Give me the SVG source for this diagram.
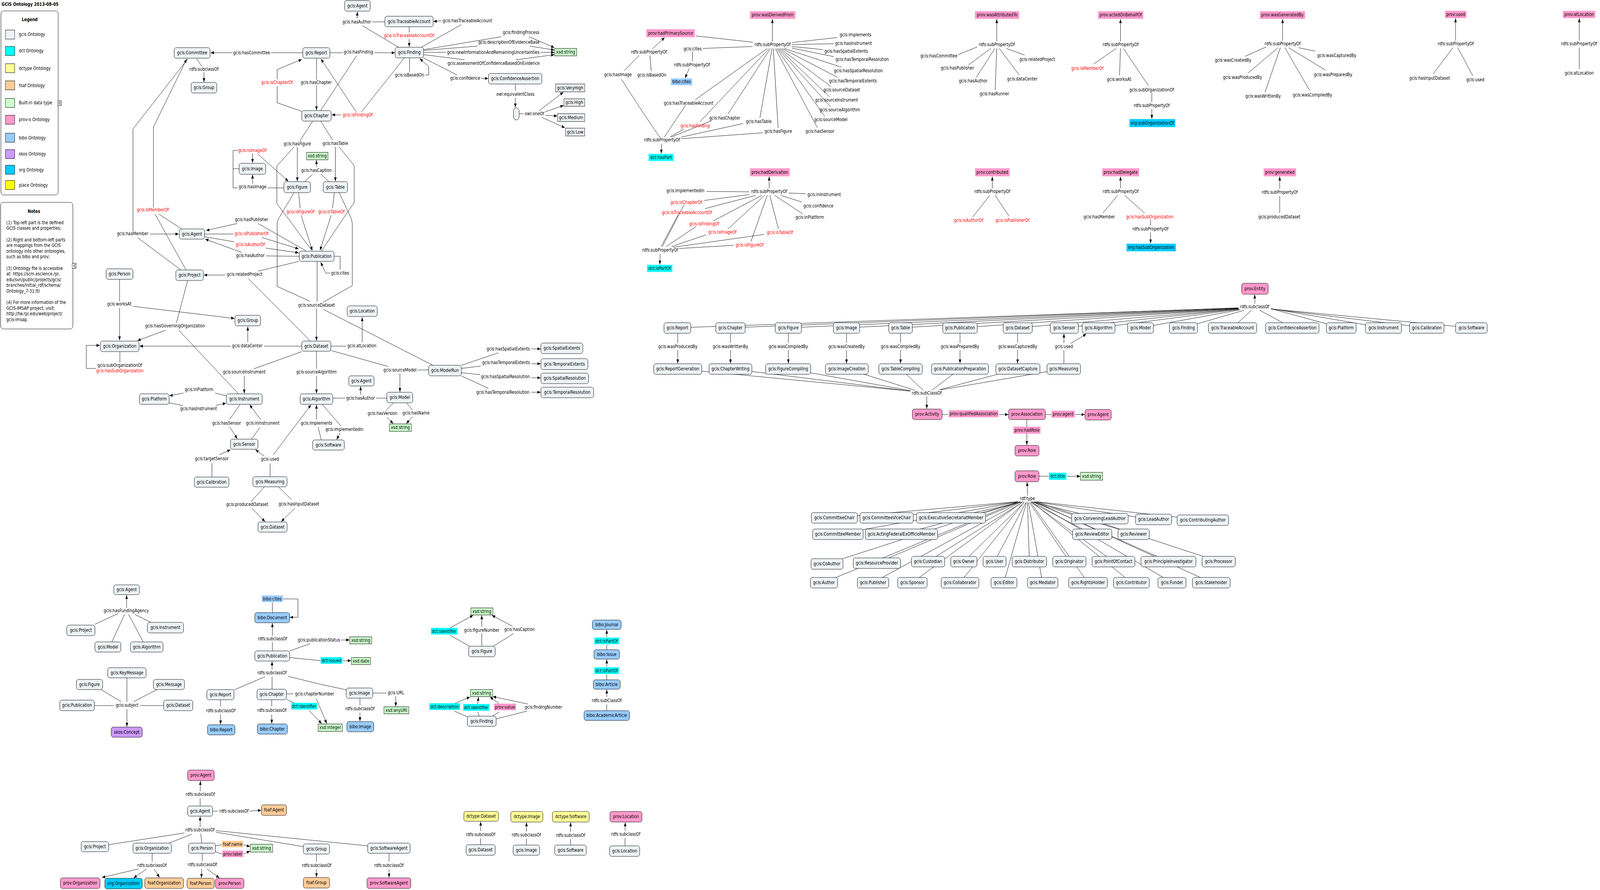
<svg xmlns="http://www.w3.org/2000/svg" width="5005" height="2278" viewBox="0 0 5005 2278">
<defs>
<marker id="ah" markerWidth="10" markerHeight="8" refX="10" refY="4" orient="auto" markerUnits="userSpaceOnUse"><path d="M0,0 L10,4 L0,8 z" fill="#000"/></marker>
<style>
text{font-family:"DejaVu Sans","Liberation Sans",sans-serif;font-size:12px;fill:#000;text-anchor:middle}
.s{text-anchor:start}
.rd{fill:#ff0000}
.bd{font-weight:bold}
.g{fill:#eef3f5;stroke:#000}
.x{fill:#ccffcc;stroke:#000}
.pk{fill:#ff99cc;stroke:#ffb0d6}
.pr{fill:#ff99cc;stroke:#000}
.cy{fill:#00ffff;stroke:#70ffff}
.bl{fill:#99ccff;stroke:#b0d8ff}
.br{fill:#99ccff;stroke:#000}
.og{fill:#00ccff;stroke:#40d8ff}
.or{fill:#00ccff;stroke:#000}
.fo{fill:#ffcc99;stroke:#000}
.dy{fill:#ffff99;stroke:#000}
.sk{fill:#cc99ff;stroke:#000}
.pl{fill:#ffff00;stroke:#000}
.hp{fill:#ff99cc}
.hc{fill:#00ffff}
.hb{fill:#99ccff}
.hf{fill:#ffcc99}
#connectors path{fill:none;stroke:#000;stroke-width:1}
#connectors .a{marker-end:url(#ah)}
.box{fill:#fff;stroke:#000}
</style>
</defs>
<rect width="5005" height="2278" fill="#fff"/>
<g id="diagram" transform="scale(0.8184 1)">
<g id="title"><text class="s bd" x="5" y="15">GCIS Ontology 2013-08-05</text></g>

<g id="legend">
<rect class="box" x="3" y="28" width="179" height="471" rx="8"/>
<text class="bd" x="93" y="54">Legend</text>
<rect class="g" x="17" y="77" width="29" height="23"/><text class="s" x="59" y="92">gcis Ontology</text>
<rect fill="#00ffff" stroke="#000" x="17" y="119" width="29" height="23"/><text class="s" x="59" y="134">dct Ontology</text>
<rect class="dy" x="17" y="163" width="29" height="23"/><text class="s" x="59" y="179">dctype Ontology</text>
<rect class="fo" x="17" y="207" width="29" height="23"/><text class="s" x="59" y="223">foaf Ontology</text>
<rect class="x" x="17" y="252" width="29" height="23"/><text class="s" x="59" y="267">Built-in data type</text>
<rect class="pr" x="17" y="295" width="29" height="23"/><text class="s" x="59" y="310">prov-o Ontology</text>
<rect class="br" x="17" y="341" width="29" height="23"/><text class="s" x="59" y="357">bibo Ontology</text>
<rect class="sk" x="17" y="383" width="29" height="23"/><text class="s" x="59" y="398">skos Ontology</text>
<rect class="or" x="17" y="423" width="29" height="23"/><text class="s" x="59" y="439">org Ontology</text>
<rect class="pl" x="17" y="462" width="29" height="23"/><text class="s" x="59" y="478">place Ontology</text>
<rect class="box" x="181" y="258" width="11" height="12"/>
<path d="M187,260 l-3,4 l3,4 M190,260 l-3,4 l3,4" fill="none" stroke="#000"/>
</g>

<g id="notes">
<rect class="box" x="2" y="518" width="226" height="324" rx="8"/>
<text class="bd" x="106" y="545">Notes</text>
<text class="s" x="20" y="574">(1) Top-left part is the defined</text>
<text class="s" x="20" y="588">GCIS classes and properties;</text>
<text class="s" x="20" y="618">(2) Right and bottom-left parts</text>
<text class="s" x="20" y="632">are mappings from the GCIS</text>
<text class="s" x="20" y="647">ontology into other ontologies,</text>
<text class="s" x="20" y="661">such as bibo and prov;</text>
<text class="s" x="20" y="691">(3) Ontology file is accessible</text>
<text class="s" x="20" y="705">at: https://scm.escience.rpi.</text>
<text class="s" x="20" y="720">edu/svn/public/projects/gcis/</text>
<text class="s" x="20" y="734">branches/initial_rdf/schema/</text>
<text class="s" x="20" y="749">Ontology_7-31.ttl</text>
<text class="s" x="20" y="778">(4) For more information of the</text>
<text class="s" x="20" y="793">GCIS-IMSAP project, visit:</text>
<text class="s" x="20" y="807">http://tw.rpi.edu/web/project/</text>
<text class="s" x="20" y="822">gcis-imsap.</text>
<rect class="box" x="226" y="674" width="12" height="13"/>
<path d="M233,676 l-3,4.5 l3,4.5 M236,676 l-3,4.5 l3,4.5" fill="none" stroke="#000"/>
</g>

<g id="connectors">
<path d="M947,135 L848,135"/><path class="a" d="M727,135 L659,135"/>
<path d="M615,150 L631,170"/><path class="a" d="M638,185 L638,210"/>
<path d="M944,285 L867,263 L867,221"/><path class="a" d="M867,203 L867,178 L944,152"/>
<path d="M990,149 L990,204"/><path class="a" d="M990,219 L990,282"/>
<path d="M1032,135 L1072,135"/><path class="a" d="M1171,135 L1235,135"/><path d="M1115,143 L1003,283"/>
<path d="M1265,148 L1131,286"/><path class="a" d="M1067,294 L1038,294"/><path class="a" d="M1114,286 L1004,151"/>
<path d="M1247,121 L1134,66"/><path d="M1204,56 L1165,56"/><path class="a" d="M1117,47 L1118,30"/>
<path d="M1318,121 L1443,63"/><path class="a" d="M1381,53 L1356,55"/>
<path d="M1280,69 L1280,83"/><path class="a" d="M1280,100 L1280,120"/>
<path d="M1326,127 L1568,94"/><path class="a" d="M1655,94 L1734,122"/>
<path d="M1326,129 L1494,118"/><path class="a" d="M1657,118 L1734,128"/>
<path d="M1326,134 L1394,134"/><path class="a" d="M1691,134 L1734,134"/>
<path d="M1326,140 L1453,153"/><path class="a" d="M1614,153 L1734,140"/>
<path d="M1324,148 L1430,192"/><path class="a" d="M1504,200 L1527,201"/>
<path d="M1281,148 L1281,183"/><path class="a" d="M1330,192 L1341,192 L1341,170 L1313,150"/>
<path d="M1612,215 L1612,233"/><path class="a" d="M1612,250 L1612,275"/>
<path d="M1624,291 L1638,291"/><path class="a" d="M1687,283 L1762,236"/><path class="a" d="M1706,286 L1763,270"/><path class="a" d="M1706,295 L1743,297"/><path class="a" d="M1694,300 L1767,327"/>
<path d="M978,310 L938,361"/><path class="a" d="M930,376 L930,464"/><path d="M920,376 L866,425 L866,521 L902,560 L975,641"/>
<path d="M934,493 L939,533"/><path class="a" d="M942,551 L977,641"/>
<path d="M1003,310 L1041,359"/><path class="a" d="M1049,376 L1049,464"/><path d="M1061,376 L1108,424 L1108,518 L1073,560 L1006,642"/>
<path d="M1046,493 L1040,533"/><path class="a" d="M1036,551 L1001,641"/>
<path d="M953,465 L978,446"/><path d="M1003,445 L1029,465"/><path class="a" d="M990,428 L990,410"/>
<path class="a" d="M790,393 L790,417"/><path class="a" d="M806,394 L902,464"/><path d="M745,385 L729,385 L729,481 L743,481"/><path d="M729,432 L748,432"/>
<path d="M837,481 L888,481"/><path class="a" d="M790,470 L790,447"/>
<path d="M920,493 L871,560 L867,571 L867,733 L969,771"/><path d="M1061,493 L1099,560 L1102,571 L1102,731 L1010,774"/><path d="M992,669 L992,772"/><path class="a" d="M990,790 L990,872"/><path d="M1012,792 L1354,935"/>
<path d="M807,572 L957,642"/><path class="a" d="M742,572 L645,590"/>
<path d="M641,599 L730,599"/><path class="a" d="M820,608 L934,637"/>
<path d="M641,606 L733,619"/><path class="a" d="M832,635 L934,647"/>
<path d="M936,656 L832,655"/><path class="a" d="M756,646 L642,612"/>
<path d="M1045,656 L1064,656 L1064,690"/><path class="a" d="M1033,699 L1019,699 L1003,671"/>
<path d="M935,669 L807,694"/><path class="a" d="M705,704 L638,704"/><path d="M777,713 L971,873"/>
<path d="M588,150 L416,330 L416,592"/><path class="a" d="M469,599 L559,599"/><path d="M430,608 L566,691"/>
<path class="a" d="M480,531 L480,325 L584,151"/><path d="M485,548 L582,691"/><path d="M497,548 L568,586"/>
<path d="M374,715 L374,771"/><path class="a" d="M374,788 L374,871"/><path class="a" d="M416,784 L733,815"/>
<path d="M587,718 L552,826"/><path class="a" d="M518,845 L430,872"/><path d="M559,845 L746,1008"/>
<path d="M944,886 L826,886"/><path class="a" d="M722,886 L437,886"/><path class="a" d="M775,876 L775,836"/>
<path d="M375,900 L375,928"/><path class="a" d="M300,943 L270,943 L270,884 L312,884"/>
<path d="M1035,886 L1083,886"/><path class="a" d="M1133,876 L1133,812"/>
<path d="M1035,897 L1214,938"/><path d="M1306,947 L1341,947"/><path class="a" d="M1251,956 L1251,1003"/>
<path d="M1443,935 L1559,903"/><path class="a" d="M1662,893 L1691,893"/>
<path d="M1443,943 L1504,937"/><path class="a" d="M1662,931 L1691,931"/>
<path d="M1443,954 L1502,959"/><path class="a" d="M1662,967 L1691,967"/>
<path d="M1443,962 L1528,994"/><path class="a" d="M1662,1004 L1691,1004"/>
<path d="M944,900 L794,944"/><path class="a" d="M764,962 L764,1007"/>
<path d="M990,899 L990,944"/><path class="a" d="M990,962 L990,1007"/>
<path d="M708,1013 L673,1006"/><path class="a" d="M574,1006 L530,1013"/>
<path d="M529,1031 L572,1038"/><path class="a" d="M674,1038 L707,1032"/>
<path d="M751,1035 L718,1074"/><path class="a" d="M718,1092 L742,1123"/>
<path class="a" d="M815,1074 L781,1036"/><path d="M813,1094 L787,1124"/>
<path class="a" d="M990,1074 L990,1036"/><path d="M995,1093 L1005,1126"/>
<path d="M1008,1035 L1067,1091"/><path class="a" d="M1064,1108 L1053,1125"/>
<path class="a" d="M827,1168 L799,1151"/><path class="a" d="M855,1164 L973,1036"/><path d="M845,1220 L845,1186"/>
<path d="M663,1221 L663,1186"/><path class="a" d="M686,1164 L721,1151"/>
<path d="M827,1246 L785,1284"/><path class="a" d="M788,1301 L829,1335"/>
<path d="M871,1246 L912,1279"/><path class="a" d="M922,1301 L880,1335"/>
<path d="M1231,1031 L1207,1051"/><path class="a" d="M1210,1068 L1230,1084"/>
<path d="M1271,1031 L1290,1049"/><path class="a" d="M1290,1067 L1271,1084"/>
<path d="M1041,1019 L1080,1019"/><path d="M1177,1019 L1210,1019"/><path class="a" d="M1128,1011 L1128,989"/>
<path class="a" d="M396,1556 L396,1523"/><path d="M370,1570 L297,1598"/><path d="M390,1572 L350,1643"/><path d="M402,1572 L448,1643"/><path d="M421,1572 L472,1593"/>
<path d="M397,1735 L397,1796"/><path d="M316,1765 L379,1796"/><path d="M491,1765 L418,1796"/><path d="M295,1806 L357,1806"/><path d="M438,1806 L512,1806"/><path class="a" d="M397,1815 L397,1860"/>
<path d="M885,1533 L932,1533 L932,1580"/><path class="a" d="M932,1580 L907,1580"/><path d="M852,1568 L852,1542"/>
<path d="M852,1666 L852,1644"/><path class="a" d="M852,1627 L852,1595"/>
<path d="M906,1666 L969,1648"/><path class="a" d="M1067,1638 L1093,1638"/>
<path d="M906,1683 L1003,1691"/><path class="a" d="M1072,1691 L1098,1691"/>
<path class="a" d="M851,1714 L851,1693"/><path d="M829,1732 L732,1766"/><path d="M851,1732 L851,1764"/><path d="M901,1731 L1000,1751 L1085,1766"/>
<path d="M690,1791 L690,1808"/><path class="a" d="M690,1829 L690,1854"/>
<path d="M850,1791 L850,1808"/><path class="a" d="M850,1829 L850,1852"/>
<path d="M896,1776 L918,1776"/><path class="a" d="M989,1788 L1022,1852"/>
<path d="M896,1790 L925,1801"/><path class="a" d="M966,1818 L1006,1852"/>
<path d="M1166,1774 L1209,1774"/><path class="a" d="M1238,1782 L1238,1808"/>
<path d="M1126,1787 L1126,1805"/><path class="a" d="M1126,1824 L1126,1846"/>
<path d="M1471,1655 L1408,1626"/><path class="a" d="M1408,1607 L1480,1575"/>
<path d="M1507,1654 L1507,1621"/><path class="a" d="M1507,1604 L1507,1575"/>
<path d="M1541,1655 L1606,1622"/><path class="a" d="M1603,1603 L1539,1575"/>
<path d="M1463,1835 L1421,1820"/><path class="a" d="M1421,1801 L1470,1784"/>
<path d="M1499,1833 L1494,1822"/><path class="a" d="M1494,1802 L1497,1784"/>
<path d="M1541,1833 L1561,1822"/><path class="a" d="M1561,1801 L1533,1784"/>
<path d="M1552,1840 L1649,1820"/><path class="a" d="M1651,1802 L1542,1783"/>
<path d="M1898,1663 L1898,1650"/><path class="a" d="M1898,1631 L1898,1612"/>
<path d="M1898,1740 L1898,1726"/><path class="a" d="M1898,1707 L1898,1688"/>
<path d="M1898,1819 L1898,1803"/><path class="a" d="M1898,1784 L1898,1765"/>
<path d="M626,2063 L626,2043"/><path class="a" d="M626,2025 L627,1999"/>
<path d="M665,2076 L681,2076"/><path class="a" d="M781,2076 L817,2074"/>
<path class="a" d="M626,2117 L626,2090"/>
<path d="M577,2132 L340,2162"/><path d="M600,2135 L529,2158"/><path d="M628,2134 L631,2158"/><path d="M675,2130 L949,2167"/><path d="M675,2126 L1150,2165"/>
<path d="M674,2165 L694,2162"/><path class="a" d="M762,2162 L782,2167"/>
<path d="M674,2180 L694,2186"/><path class="a" d="M762,2186 L782,2178"/>
<path d="M476,2184 L476,2206"/><path class="a" d="M434,2224 L319,2246"/><path class="a" d="M459,2224 L418,2247"/><path class="a" d="M482,2224 L499,2246"/>
<path d="M632,2184 L633,2204"/><path class="a" d="M631,2224 L630,2247"/><path class="a" d="M647,2224 L686,2247"/>
<path d="M990,2186 L990,2206"/><path class="a" d="M990,2225 L990,2245"/>
<path d="M1217,2184 L1217,2206"/><path class="a" d="M1217,2225 L1217,2246"/>
<path d="M1503.5,2162 L1503.5,2146"/><path class="a" d="M1503.5,2127 L1503.5,2103"/>
<path d="M1646.5,2163 L1646.5,2147"/><path class="a" d="M1646.5,2128 L1647,2105"/>
<path d="M1784.5,2163 L1784.5,2148"/><path class="a" d="M1784.5,2129 L1785,2105"/>
<path d="M1955,2165 L1955,2145"/><path class="a" d="M1955,2126 L1956,2105"/>
<path class="a" d="M2041,125 L2079,96"/><path d="M1999,142 L1953,181"/><path d="M2033,142 L2037,182"/><path d="M1944,203 L2000,274 L2064,352"/>
<path class="a" d="M2070,368 L2068,393"/><path d="M2144,270 L2078,351"/><path d="M2140,330 L2096,350"/><path d="M2226,309 L2099,351"/><path d="M2325,316 L2131,351"/><path d="M2386,340 L2131,355"/>
<path d="M2166,132 L2166,157"/><path class="a" d="M2156,175 L2143,200"/>
<path class="a" d="M2416,106 L2416,49"/>
<path d="M2177,92 L2355,108"/><path d="M2354,119 L2198,124"/>
<path d="M2477,109 L2619,96"/><path d="M2477,114 L2608,112"/><path d="M2477,119 L2575,127"/><path d="M2477,123 L2608,145"/>
<path d="M2453,124 L2632,172"/><path d="M2446,124 L2620,198"/><path d="M2440,124 L2600,222"/><path d="M2436,124 L2595,248"/>
<path d="M2432,124 L2598,273"/><path d="M2429,124 L2580,298"/><path d="M2425,124 L2557,327"/><path d="M2419,124 L2434,327"/>
<path d="M2415,124 L2377,302"/><path d="M2410,124 L2277,292"/><path d="M2406,124 L2189,312"/><path d="M2400,124 L2175,255"/>
<path class="a" d="M3118,106 L3118,49"/>
<path d="M3057,120 L2997,140"/><path d="M3099,124 L3030,166"/><path d="M3112,124 L3054,198"/><path d="M3118,124 L3113,230"/><path d="M3126,124 L3188,192"/><path d="M3148,124 L3205,141"/>
<path class="a" d="M3505,106 L3505,49"/>
<path d="M3491,124 L3421,164"/><path d="M3505,124 L3502,193"/><path d="M3514,124 L3593,220"/>
<path d="M3603,238 L3603,262"/><path class="a" d="M3603,279 L3603,304"/>
<path class="a" d="M4012,104 L4012,49"/>
<path d="M3961,120 L3895,144"/><path d="M3998,122 L3904,187"/><path d="M4005,122 L3957,236"/><path d="M4019,122 L4097,232"/><path d="M4031,122 L4147,180"/><path d="M4062,122 L4114,131"/>
<path class="a" d="M4553,104 L4553,47"/><path d="M4545,122 L4483,189"/><path d="M4560,122 L4607,194"/>
<path class="a" d="M4940,104 L4940,47"/><path d="M4940,122 L4940,177"/>
<path class="a" d="M2406,482 L2406,452"/>
<path d="M2210,490 L2344,491"/><path d="M2203,513 L2344,498"/><path d="M2205,534 L2364,500"/>
<path d="M2467,494 L2520,496"/><path d="M2442,500 L2508,517"/><path d="M2423,500 L2512,548"/>
<path d="M2383,500 L2232,565"/><path d="M2392,500 L2277,586"/><path d="M2400,500 L2349,618"/><path d="M2408,500 L2435,586"/>
<path class="a" d="M2065,650 L2064,677"/>
<path d="M2140,524 L2072,631"/><path d="M2121,550 L2068,631"/><path d="M2177,580 L2084,631"/><path d="M2209,601 L2101,631"/><path d="M2390,600 L2105,633"/><path d="M2294,628 L2124,636"/>
<path class="a" d="M3104,482 L3104,452"/><path d="M3096,500 L3043,555"/><path d="M3113,500 L3156,553"/>
<path class="a" d="M3505,482 L3505,452"/><path d="M3496,500 L3450,545"/><path d="M3518,500 L3580,545"/>
<path d="M3599,562 L3599,577"/><path class="a" d="M3599,595 L3599,623"/>
<path class="a" d="M4003,484 L4003,452"/><path d="M4003,502 L4003,545"/>
<path class="a" d="M3925,777 L3925,754"/>
<path d="M2119,839 L3874,788"/><path d="M2285,839 L3874,788"/><path d="M2466,839 L3874,789"/><path d="M2648,839 L3874,789"/><path d="M2817,839 L3874,790"/><path d="M3003,839 L3874,790"/><path d="M3183,839 L3874,791"/><path d="M3329,839 L3874,791"/><path d="M3436,839 L3876,792"/><path d="M3567,839 L3880,793"/><path d="M3702,839 L3892,794"/><path d="M3855,839 L3915,794"/><path d="M4042,839 L3940,794"/><path d="M4195,839 L3975,790"/><path d="M4327,839 L3975,790"/><path d="M4463,839 L3977,791"/><path d="M4602,839 L3977,791"/>
<path d="M2120,853 L2120,878"/><path class="a" d="M2120,896 L2120,930"/>
<path d="M2285,853 L2285,878"/><path class="a" d="M2285,896 L2285,930"/>
<path d="M2466,853 L2466,878"/><path class="a" d="M2466,896 L2466,930"/>
<path d="M2648,853 L2648,878"/><path class="a" d="M2648,896 L2648,930"/>
<path d="M2817,853 L2817,878"/><path class="a" d="M2817,896 L2817,930"/>
<path d="M3003,853 L3003,878"/><path class="a" d="M3003,896 L3003,930"/>
<path d="M3183,853 L3183,878"/><path class="a" d="M3183,896 L3183,930"/>
<path class="a" d="M3328,878 L3328,854"/><path class="a" d="M3349,879 L3398,855"/><path d="M3328,931 L3328,897"/>
<path d="M2120,944 L2847,1001"/><path d="M2285,944 L2847,1001"/><path d="M2465,944 L2849,1000"/><path d="M2649,944 L2862,999"/><path d="M2817,944 L2888,999"/><path d="M3003,944 L2915,999"/><path d="M3184,944 L2937,998"/><path d="M3327,944 L2942,998"/>
<path class="a" d="M2899,1015 L2899,1046"/>
<path d="M2947,1061 L2966,1061"/><path class="a" d="M3125,1061 L3154,1061"/>
<path d="M3270,1061 L3288,1061"/><path class="a" d="M3363,1061 L3393,1061"/>
<path d="M3212,1074 L3212,1092"/><path class="a" d="M3212,1110 L3212,1139"/>
<path d="M3250,1219 L3280,1219"/><path class="a" d="M3337,1219 L3379,1219"/>
<path class="a" d="M3214,1268 L3213,1234"/>
<path d="M2610,1325 L3184,1284"/><path d="M2773,1325 L3192,1284"/><path d="M2975,1325 L3202,1284"/><path d="M3440,1327 L3226,1284"/><path d="M3608,1330 L3234,1284"/><path d="M3762,1331 L3241,1284"/>
<path d="M2621,1367 L3184,1285"/><path d="M2820,1367 L3194,1285"/><path d="M3416,1367 L3224,1285"/><path d="M3546,1367 L3230,1285"/>
<path d="M2587,1443 L3184,1285"/><path d="M2743,1441 L3190,1285"/><path d="M2903,1437 L3198,1286"/><path d="M3015,1437 L3204,1286"/><path d="M3111,1437 L3209,1286"/><path d="M3220,1437 L3214,1286"/><path d="M3345,1437 L3220,1286"/><path d="M3483,1437 L3227,1286"/><path d="M3655,1437 L3236,1285"/><path d="M3812,1437 L3244,1285"/>
<path d="M2577,1491 L3183,1285"/><path d="M2731,1491 L3190,1286"/><path d="M2854,1491 L3196,1286"/><path d="M3003,1491 L3203,1286"/><path d="M3140,1491 L3211,1286"/><path d="M3261,1491 L3217,1286"/><path d="M3403,1491 L3224,1286"/><path d="M3539,1491 L3230,1286"/><path d="M3666,1491 L3236,1286"/><path d="M3789,1491 L3242,1286"/>
</g>

<g id="nodes">
<g id="n-committee"><rect class="g" x="545" y="122" width="112" height="27" rx="6"/><text x="601" y="139.5">gcis:Committee</text></g>
<g id="n-group1"><rect class="g" x="598" y="211" width="80" height="27" rx="6"/><text x="638" y="228.5">gcis:Group</text></g>
<g id="n-report1"><rect class="g" x="947" y="122" width="85" height="27" rx="6"/><text x="989.5" y="139.5">gcis:Report</text></g>
<g id="n-chapter1"><rect class="g" x="944" y="283" width="92" height="27" rx="6"/><text x="990" y="300.5">gcis:Chapter</text></g>
<g id="n-agent1"><rect class="g" x="1078" y="1.5" width="80" height="27" rx="6"/><text x="1118" y="19">gcis:Agent</text></g>
<g id="n-traceable1"><rect class="g" x="1204" y="41.5" width="151" height="27" rx="6"/><text x="1279.5" y="59">gcis:TraceableAccount</text></g>
<g id="n-finding1"><rect class="g" x="1236" y="121" width="89" height="27" rx="6"/><text x="1280.5" y="138.5">gcis:Finding</text></g>
<g id="n-confidence1"><rect class="g" x="1528" y="188" width="167" height="27" rx="6"/><text x="1611.5" y="205.5">gcis:ConfidenceAssertion</text></g>
<g id="n-xstr1"><rect class="x" x="1735" y="124" width="69" height="19"/><text x="1769.5" y="137.5">xsd:string</text></g>
<g id="n-veryhigh"><rect class="g" x="1738" y="215" width="91" height="20"/><text x="1783.5" y="229">gcis:VeryHigh</text></g>
<g id="n-high"><rect class="g" x="1764" y="253" width="65" height="19"/><text x="1796.5" y="266.5">gcis:High</text></g>
<g id="n-medium"><rect class="g" x="1744" y="291" width="85" height="20"/><text x="1786.5" y="305">gcis:Medium</text></g>
<g id="n-low"><rect class="g" x="1769" y="328" width="60" height="20"/><text x="1799" y="342">gcis:Low</text></g>
<g id="n-oneof"><rect class="g" x="1606" y="276" width="18" height="31" rx="9"/></g>
<g id="n-image1"><rect class="g" x="748" y="418" width="83" height="28" rx="6"/><text x="789.5" y="436">gcis:Image</text></g>
<g id="n-figure1"><rect class="g" x="888" y="465" width="83" height="28" rx="6"/><text x="929.5" y="483">gcis:Figure</text></g>
<g id="n-xstr2"><rect class="x" x="959" y="390" width="67" height="19"/><text x="992.5" y="403.5">xsd:string</text></g>
<g id="n-table1"><rect class="g" x="1011" y="465" width="76" height="28" rx="6"/><text x="1049" y="483">gcis:Table</text></g>
<g id="n-agent2"><rect class="g" x="561" y="586" width="79" height="26" rx="6"/><text x="600.5" y="603">gcis:Agent</text></g>
<g id="n-publication1"><rect class="g" x="936" y="643" width="109" height="26" rx="6"/><text x="990.5" y="660">gcis:Publication</text></g>
<g id="n-person1"><rect class="g" x="332" y="688" width="84" height="27" rx="6"/><text x="374" y="705.5">gcis:Person</text></g>
<g id="n-project1"><rect class="g" x="550" y="691" width="86" height="27" rx="6"/><text x="593" y="708.5">gcis:Project</text></g>
<g id="n-group2"><rect class="g" x="735" y="807" width="80" height="27" rx="6"/><text x="775" y="824.5">gcis:Group</text></g>
<g id="n-organization1"><rect class="g" x="314" y="873" width="121" height="27" rx="6"/><text x="374.5" y="890.5">gcis:Organization</text></g>
<g id="n-dataset1"><rect class="g" x="944" y="873" width="91" height="26" rx="6"/><text x="989.5" y="890">gcis:Dataset</text></g>
<g id="n-location1"><rect class="g" x="1086" y="783" width="94" height="27" rx="6"/><text x="1133" y="800.5">gcis:Location</text></g>
<g id="n-modelrun"><rect class="g" x="1341" y="935" width="102" height="27" rx="6"/><text x="1392" y="952.5">gcis:ModelRun</text></g>
<g id="n-spatialext"><rect class="g" x="1692" y="878" width="131" height="27" rx="6"/><text x="1757.5" y="895.5">gcis:SpatialExtents</text></g>
<g id="n-temporalext"><rect class="g" x="1692" y="918" width="147" height="28" rx="6"/><text x="1765.5" y="936">gcis:TemporalExtents</text></g>
<g id="n-spatialres"><rect class="g" x="1692" y="955" width="149" height="27" rx="6"/><text x="1766.5" y="972.5">gcis:SpatialResolution</text></g>
<g id="n-temporalres"><rect class="g" x="1692" y="991" width="165" height="27" rx="6"/><text x="1774.5" y="1008.5">gcis:TemporalResolution</text></g>
<g id="n-agent3"><rect class="g" x="1091" y="962" width="79" height="26" rx="6"/><text x="1130.5" y="979">gcis:Agent</text></g>
<g id="n-model1"><rect class="g" x="1210" y="1004" width="81" height="27" rx="6"/><text x="1250.5" y="1021.5">gcis:Model</text></g>
<g id="n-xstr3"><rect class="x" x="1218" y="1085" width="69" height="19"/><text x="1252.5" y="1098.5">xsd:string</text></g>
<g id="n-instrument1"><rect class="g" x="708" y="1008" width="112" height="27" rx="6"/><text x="764" y="1025.5">gcis:Instrument</text></g>
<g id="n-platform1"><rect class="g" x="436" y="1008" width="93" height="27" rx="6"/><text x="482.5" y="1025.5">gcis:Platform</text></g>
<g id="n-algorithm1"><rect class="g" x="939" y="1008" width="102" height="27" rx="6"/><text x="990" y="1025.5">gcis:Algorithm</text></g>
<g id="n-sensor1"><rect class="g" x="721" y="1124" width="86" height="26" rx="6"/><text x="764" y="1141">gcis:Sensor</text></g>
<g id="n-calibration1"><rect class="g" x="608" y="1221" width="108" height="26" rx="6"/><text x="662" y="1238">gcis:Calibration</text></g>
<g id="n-measuring1"><rect class="g" x="791" y="1220" width="107" height="26" rx="6"/><text x="844.5" y="1237">gcis:Measuring</text></g>
<g id="n-dataset2"><rect class="g" x="807" y="1336" width="91" height="26" rx="6"/><text x="852.5" y="1353">gcis:Dataset</text></g>
<g id="n-software1"><rect class="g" x="978" y="1126" width="99" height="26" rx="6"/><text x="1027.5" y="1143">gcis:Software</text></g>

<g id="n-agent4"><rect class="g" x="356" y="1497" width="80" height="25" rx="6"/><text x="396" y="1513.5">gcis:Agent</text></g>
<g id="n-project2"><rect class="g" x="209" y="1600" width="88" height="27" rx="6"/><text x="253" y="1617.5">gcis:Project</text></g>
<g id="n-instrument2"><rect class="g" x="461" y="1593" width="113" height="27" rx="6"/><text x="517.5" y="1610.5">gcis:Instrument</text></g>
<g id="n-model2"><rect class="g" x="297" y="1643" width="81" height="26" rx="6"/><text x="337.5" y="1660">gcis:Model</text></g>
<g id="n-algorithm2"><rect class="g" x="408" y="1643" width="102" height="26" rx="6"/><text x="459" y="1660">gcis:Algorithm</text></g>
<g id="n-keymessage"><rect class="g" x="337" y="1709" width="120" height="26" rx="6"/><text x="397" y="1726">gcis:KeyMessage</text></g>
<g id="n-figure2"><rect class="g" x="239" y="1739" width="82" height="26" rx="6"/><text x="280" y="1756">gcis:Figure</text></g>
<g id="n-message"><rect class="g" x="480" y="1739" width="97" height="26" rx="6"/><text x="528.5" y="1756">gcis:Message</text></g>
<g id="n-publication2"><rect class="g" x="187" y="1792" width="108" height="27" rx="6"/><text x="241" y="1809.5">gcis:Publication</text></g>
<g id="n-dataset3"><rect class="g" x="512" y="1792" width="91" height="27" rx="6"/><text x="557.5" y="1809.5">gcis:Dataset</text></g>
<g id="n-concept"><rect class="sk" x="348" y="1861" width="97" height="26" rx="6"/><text x="396.5" y="1878">skos:Concept</text></g>

<g id="n-document"><rect class="br" x="797" y="1568" width="109" height="26" rx="6"/><text x="851.5" y="1585">bibo:Document</text></g>
<g id="n-publication3"><rect class="g" x="797" y="1666" width="109" height="26" rx="6"/><text x="851.5" y="1683">gcis:Publication</text></g>
<g id="n-xstr4"><rect class="x" x="1094" y="1630" width="69" height="18"/><text x="1128.5" y="1643">xsd:string</text></g>
<g id="n-xdate"><rect class="x" x="1099" y="1683" width="60" height="18"/><text x="1129" y="1696">xsd:date</text></g>
<g id="n-report2"><rect class="g" x="647" y="1765" width="85" height="26" rx="6"/><text x="689.5" y="1782">gcis:Report</text></g>
<g id="n-biboreport"><rect class="br" x="649" y="1855" width="86" height="26" rx="6"/><text x="692" y="1872">bibo:Report</text></g>
<g id="n-chapter2"><rect class="g" x="804" y="1764" width="92" height="27" rx="6"/><text x="850" y="1781.5">gcis:Chapter</text></g>
<g id="n-bibochapter"><rect class="br" x="805" y="1853" width="94" height="26" rx="6"/><text x="852" y="1870">bibo:Chapter</text></g>
<g id="n-xint"><rect class="x" x="995" y="1853" width="76" height="19"/><text x="1033" y="1866.5">xsd:integer</text></g>
<g id="n-image2"><rect class="g" x="1083" y="1761" width="83" height="26" rx="6"/><text x="1124.5" y="1778">gcis:Image</text></g>
<g id="n-xuri"><rect class="x" x="1201" y="1809" width="78" height="18"/><text x="1240" y="1822">xsd:anyURI</text></g>
<g id="n-biboimage"><rect class="br" x="1085" y="1847" width="84" height="26" rx="6"/><text x="1127" y="1864">bibo:Image</text></g>

<g id="n-xstr5"><rect class="x" x="1473" y="1556" width="69" height="18"/><text x="1507.5" y="1569">xsd:string</text></g>
<g id="n-figure3"><rect class="g" x="1466" y="1654" width="83" height="27" rx="6"/><text x="1507.5" y="1671.5">gcis:Figure</text></g>
<g id="n-xstr6"><rect class="x" x="1472" y="1765" width="69" height="18"/><text x="1506.5" y="1778">xsd:string</text></g>
<g id="n-finding2"><rect class="g" x="1462" y="1833" width="90" height="26" rx="6"/><text x="1507" y="1850">gcis:Finding</text></g>
<g id="n-journal"><rect class="br" x="1853" y="1587" width="90" height="24" rx="6"/><text x="1898" y="1603">bibo:Journal</text></g>
<g id="n-issue"><rect class="br" x="1858" y="1663" width="80" height="24" rx="6"/><text x="1898" y="1679">bibo:Issue</text></g>
<g id="n-article"><rect class="br" x="1856" y="1740" width="84" height="24" rx="6"/><text x="1898" y="1756">bibo:Article</text></g>
<g id="n-academic"><rect class="br" x="1827" y="1819" width="142" height="25" rx="6"/><text x="1898" y="1835.5">bibo:AcademicArticle</text></g>

<g id="n-provagent2"><rect class="pr" x="587" y="1971" width="83" height="27" rx="6"/><text x="628.5" y="1988.5">prov:Agent</text></g>
<g id="n-agent5"><rect class="g" x="587" y="2063" width="78" height="26" rx="6"/><text x="626" y="2080">gcis:Agent</text></g>
<g id="n-foafagent"><rect class="fo" x="818" y="2060" width="78" height="27" rx="6"/><text x="857" y="2077.5">foaf:Agent</text></g>
<g id="n-project3"><rect class="g" x="254" y="2154" width="86" height="26" rx="6"/><text x="297" y="2171">gcis:Project</text></g>
<g id="n-organization2"><rect class="g" x="416" y="2158" width="120" height="26" rx="6"/><text x="476" y="2175">gcis:Organization</text></g>
<g id="n-person2"><rect class="g" x="590" y="2158" width="84" height="26" rx="6"/><text x="632" y="2175">gcis:Person</text></g>
<g id="n-xstr7"><rect class="x" x="783" y="2161" width="70" height="20"/><text x="818" y="2175">xsd:string</text></g>
<g id="n-group3"><rect class="g" x="949" y="2160" width="82" height="26" rx="6"/><text x="990" y="2177">gcis:Group</text></g>
<g id="n-softwareagent"><rect class="g" x="1150" y="2158" width="133" height="26" rx="6"/><text x="1216.5" y="2175">gcis:SoftwareAgent</text></g>
<g id="n-provorg"><rect class="pr" x="189" y="2247" width="124" height="27" rx="6"/><text x="251" y="2264.5">prov:Organization</text></g>
<g id="n-orgorg"><rect class="or" x="328" y="2248" width="117" height="27" rx="6"/><text x="386.5" y="2265.5">org:Organization</text></g>
<g id="n-foaforg"><rect class="fo" x="453" y="2247" width="121" height="27" rx="6"/><text x="513.5" y="2264.5">foaf:Organization</text></g>
<g id="n-foafperson"><rect class="fo" x="585" y="2248" width="85" height="26" rx="6"/><text x="627.5" y="2265">foaf:Person</text></g>
<g id="n-provperson"><rect class="pr" x="674" y="2248" width="89" height="26" rx="6"/><text x="718.5" y="2265">prov:Person</text></g>
<g id="n-foafgroup"><rect class="fo" x="949" y="2246" width="82" height="27" rx="6"/><text x="990" y="2263.5">foaf:Group</text></g>
<g id="n-provsoftwareagent"><rect class="pr" x="1148" y="2247" width="137" height="27" rx="6"/><text x="1216.5" y="2264.5">prov:SoftwareAgent</text></g>

<g id="n-dtdataset"><rect class="dy" x="1451" y="2077" width="108" height="25" rx="6"/><text x="1505" y="2093.5">dctype:Dataset</text></g>
<g id="n-dataset4"><rect class="g" x="1458" y="2162" width="91" height="27" rx="6"/><text x="1503.5" y="2179.5">gcis:Dataset</text></g>
<g id="n-dtimage"><rect class="dy" x="1598" y="2077" width="100" height="27" rx="6"/><text x="1648" y="2094.5">dctype:Image</text></g>
<g id="n-image3"><rect class="g" x="1605" y="2163" width="83" height="26" rx="6"/><text x="1646.5" y="2180">gcis:Image</text></g>
<g id="n-dtsoftware"><rect class="dy" x="1728" y="2077" width="115" height="27" rx="6"/><text x="1785.5" y="2094.5">dctype:Software</text></g>
<g id="n-software2"><rect class="g" x="1735" y="2163" width="99" height="26" rx="6"/><text x="1784.5" y="2180">gcis:Software</text></g>
<g id="n-provlocation"><rect class="pr" x="1908" y="2077" width="100" height="27" rx="6"/><text x="1958" y="2094.5">prov:Location</text></g>
<g id="n-location2"><rect class="g" x="1907" y="2165" width="94" height="27" rx="6"/><text x="1954" y="2182.5">gcis:Location</text></g>

<g id="n-hadprimary"><rect class="pk" x="2022" y="75" width="151" height="20"/><text x="2097.5" y="89">prov:hadPrimarySource</text></g>
<g id="n-wasderived"><rect class="pk" x="2346" y="29" width="142" height="19"/><text x="2417" y="42.5">prov:wasDerivedFrom</text></g>
<g id="n-bibocites"><rect class="bl" x="2099" y="201" width="66" height="17"/><text x="2132" y="213.5">bibo:cites</text></g>
<g id="n-haspart"><rect class="cy" x="2029" y="394" width="78" height="18"/><text x="2068" y="407">dct:hasPart</text></g>
<g id="n-wasattributed"><rect class="pk" x="3050" y="29" width="138" height="19"/><text x="3119" y="42.5">prov:wasAttributedTo</text></g>
<g id="n-actedon"><rect class="pk" x="3435" y="29" width="141" height="19"/><text x="3505.5" y="42.5">prov:actedOnBehalfOf</text></g>
<g id="n-orgsuborgof"><rect class="og" x="3533" y="305" width="143" height="20"/><text x="3604.5" y="319">org:subOrganizationOf</text></g>
<g id="n-wasgenerated"><rect class="pk" x="3941" y="29" width="141" height="19"/><text x="4011.5" y="42.5">prov:wasGeneratedBy</text></g>
<g id="n-provused"><rect class="pk" x="4520" y="28" width="67" height="18"/><text x="4553.5" y="41">prov:used</text></g>
<g id="n-provatloc"><rect class="pk" x="4889" y="28" width="101" height="18"/><text x="4939.5" y="41">prov:atLocation</text></g>
<g id="n-hadderivation"><rect class="pk" x="2346" y="431" width="124" height="20"/><text x="2408" y="445">prov:hadDerivation</text></g>
<g id="n-contributed"><rect class="pk" x="3050" y="431" width="108" height="20"/><text x="3104" y="445">prov:contributed</text></g>
<g id="n-haddelegate"><rect class="pk" x="3448" y="431" width="115" height="20"/><text x="3505.5" y="445">prov:hadDelegate</text></g>
<g id="n-generated"><rect class="pk" x="3953" y="431" width="101" height="20"/><text x="4003.5" y="445">prov:generated</text></g>
<g id="n-ispartof"><rect class="cy" x="2024" y="678" width="79" height="18"/><text x="2063.5" y="691">dct:isPartOf</text></g>
<g id="n-orghassub"><rect class="og" x="3524" y="624" width="154" height="19"/><text x="3601" y="637.5">org:hasSubOrganization</text></g>

<g id="n-entity"><rect class="pr" x="3884" y="725" width="83" height="28" rx="6"/><text x="3925.5" y="743">prov:Entity</text></g>
<g id="n-report3"><rect class="g" x="2077" y="826" width="84" height="27" rx="6"/><text x="2119" y="843.5">gcis:Report</text></g>
<g id="n-chapter3"><rect class="g" x="2239" y="826" width="92" height="27" rx="6"/><text x="2285" y="843.5">gcis:Chapter</text></g>
<g id="n-figure4"><rect class="g" x="2425" y="826" width="82" height="27" rx="6"/><text x="2466" y="843.5">gcis:Figure</text></g>
<g id="n-image4"><rect class="g" x="2607" y="826" width="82" height="27" rx="6"/><text x="2648" y="843.5">gcis:Image</text></g>
<g id="n-table2"><rect class="g" x="2780" y="826" width="74" height="27" rx="6"/><text x="2817" y="843.5">gcis:Table</text></g>
<g id="n-publication4"><rect class="g" x="2949" y="826" width="108" height="27" rx="6"/><text x="3003" y="843.5">gcis:Publication</text></g>
<g id="n-dataset5"><rect class="g" x="3138" y="826" width="91" height="27" rx="6"/><text x="3183.5" y="843.5">gcis:Dataset</text></g>
<g id="n-sensor2"><rect class="g" x="3285" y="826" width="88" height="27" rx="6"/><text x="3329" y="843.5">gcis:Sensor</text></g>
<g id="n-algorithm3"><rect class="g" x="3385" y="826" width="103" height="27" rx="6"/><text x="3436.5" y="843.5">gcis:Algorithm</text></g>
<g id="n-model3"><rect class="g" x="3527" y="826" width="81" height="27" rx="6"/><text x="3567.5" y="843.5">gcis:Model</text></g>
<g id="n-finding3"><rect class="g" x="3658" y="826" width="88" height="27" rx="6"/><text x="3702" y="843.5">gcis:Finding</text></g>
<g id="n-traceable2"><rect class="g" x="3780" y="826" width="151" height="27" rx="6"/><text x="3855.5" y="843.5">gcis:TraceableAccount</text></g>
<g id="n-confidence2"><rect class="g" x="3959" y="826" width="167" height="27" rx="6"/><text x="4042.5" y="843.5">gcis:ConfidenceAssertion</text></g>
<g id="n-platform2"><rect class="g" x="4149" y="826" width="93" height="27" rx="6"/><text x="4195.5" y="843.5">gcis:Platform</text></g>
<g id="n-instrument3"><rect class="g" x="4271" y="826" width="113" height="27" rx="6"/><text x="4327.5" y="843.5">gcis:Instrument</text></g>
<g id="n-calibration2"><rect class="g" x="4409" y="826" width="108" height="27" rx="6"/><text x="4463" y="843.5">gcis:Calibration</text></g>
<g id="n-software3"><rect class="g" x="4553" y="826" width="99" height="27" rx="6"/><text x="4602.5" y="843.5">gcis:Software</text></g>

<g id="n-reportgen"><rect class="g" x="2045" y="931" width="150" height="27" rx="6"/><text x="2120" y="948.5">gcis:ReportGeneration</text></g>
<g id="n-chapterwriting"><rect class="g" x="2218" y="931" width="134" height="27" rx="6"/><text x="2285" y="948.5">gcis:ChapterWriting</text></g>
<g id="n-figurecompiling"><rect class="g" x="2395" y="931" width="141" height="27" rx="6"/><text x="2465.5" y="948.5">gcis:FigureCompiling</text></g>
<g id="n-imagecreation"><rect class="g" x="2582" y="931" width="134" height="27" rx="6"/><text x="2649" y="948.5">gcis:ImageCreation</text></g>
<g id="n-tablecompiling"><rect class="g" x="2749" y="931" width="136" height="27" rx="6"/><text x="2817" y="948.5">gcis:TableCompiling</text></g>
<g id="n-pubprep"><rect class="g" x="2914" y="931" width="178" height="27" rx="6"/><text x="3003" y="948.5">gcis:PublicationPreparation</text></g>
<g id="n-datasetcapture"><rect class="g" x="3115" y="931" width="138" height="27" rx="6"/><text x="3184" y="948.5">gcis:DatasetCapture</text></g>
<g id="n-measuring2"><rect class="g" x="3275" y="931" width="105" height="27" rx="6"/><text x="3327.5" y="948.5">gcis:Measuring</text></g>

<g id="n-provactivity"><rect class="pr" x="2854" y="1047" width="93" height="27" rx="6"/><text x="2900.5" y="1064.5">prov:Activity</text></g>
<g id="n-provassoc"><rect class="pr" x="3155" y="1047" width="115" height="27" rx="6"/><text x="3212.5" y="1064.5">prov:Association</text></g>
<g id="n-provagent3"><rect class="pr" x="3394" y="1048" width="82" height="27" rx="6"/><text x="3435" y="1065.5">prov:Agent</text></g>
<g id="n-role1"><rect class="pr" x="3175" y="1140" width="75" height="27" rx="6"/><text x="3212.5" y="1157.5">prov:Role</text></g>
<g id="n-role2"><rect class="pr" x="3175" y="1205" width="75" height="28" rx="6"/><text x="3212.5" y="1223">prov:Role</text></g>
<g id="n-xstr8"><rect class="x" x="3380" y="1209" width="69" height="20"/><text x="3414.5" y="1223">xsd:string</text></g>

<g id="n-committeechair"><rect class="g" x="2538" y="1312" width="144" height="27" rx="6"/><text x="2610" y="1329.5">gcis:CommitteeChair</text></g>
<g id="n-committeevicechair"><rect class="g" x="2690" y="1312" width="167" height="27" rx="6"/><text x="2773.5" y="1329.5">gcis:CommitteeViceChair</text></g>
<g id="n-execsec"><rect class="g" x="2867" y="1312" width="216" height="27" rx="6"/><text x="2975" y="1329.5">gcis:ExecutiveSecretariatMember</text></g>
<g id="n-convening"><rect class="g" x="3352" y="1314" width="177" height="27" rx="6"/><text x="3440.5" y="1331.5">gcis:ConveningLeadAuthor</text></g>
<g id="n-leadauthor"><rect class="g" x="3552" y="1316" width="113" height="27" rx="6"/><text x="3608.5" y="1333.5">gcis:LeadAuthor</text></g>
<g id="n-contributingauthor"><rect class="g" x="3682" y="1318" width="161" height="27" rx="6"/><text x="3762.5" y="1335.5">gcis:ContributingAuthor</text></g>
<g id="n-committeemember"><rect class="g" x="2542" y="1354" width="158" height="27" rx="6"/><text x="2621" y="1371.5">gcis:CommitteeMember</text></g>
<g id="n-acting"><rect class="g" x="2707" y="1354" width="226" height="27" rx="6"/><text x="2820" y="1371.5">gcis:ActingFederalExOfficioMember</text></g>
<g id="n-revieweditor"><rect class="g" x="3355" y="1354" width="123" height="27" rx="6"/><text x="3416.5" y="1371.5">gcis:ReviewEditor</text></g>
<g id="n-reviewer"><rect class="g" x="3497" y="1354" width="98" height="27" rx="6"/><text x="3546" y="1371.5">gcis:Reviewer</text></g>
<g id="n-coauthor"><rect class="g" x="2537" y="1430" width="100" height="27" rx="6"/><text x="2587" y="1447.5">gcis:CoAuthor</text></g>
<g id="n-resourceprovider"><rect class="g" x="2669" y="1428" width="148" height="27" rx="6"/><text x="2743" y="1445.5">gcis:ResourceProvider</text></g>
<g id="n-custodian"><rect class="g" x="2851" y="1424" width="104" height="27" rx="6"/><text x="2903" y="1441.5">gcis:Custodian</text></g>
<g id="n-owner"><rect class="g" x="2974" y="1424" width="82" height="27" rx="6"/><text x="3015" y="1441.5">gcis:Owner</text></g>
<g id="n-user"><rect class="g" x="3075" y="1424" width="72" height="27" rx="6"/><text x="3111" y="1441.5">gcis:User</text></g>
<g id="n-distributor"><rect class="g" x="3166" y="1424" width="108" height="27" rx="6"/><text x="3220" y="1441.5">gcis:Distributor</text></g>
<g id="n-originator"><rect class="g" x="3293" y="1424" width="104" height="27" rx="6"/><text x="3345" y="1441.5">gcis:Originator</text></g>
<g id="n-pointofcontact"><rect class="g" x="3416" y="1424" width="134" height="27" rx="6"/><text x="3483" y="1441.5">gcis:PointOfContact</text></g>
<g id="n-principle"><rect class="g" x="3569" y="1424" width="172" height="27" rx="6"/><text x="3655" y="1441.5">gcis:PrincipleInvestigator</text></g>
<g id="n-processor"><rect class="g" x="3760" y="1424" width="104" height="27" rx="6"/><text x="3812" y="1441.5">gcis:Processor</text></g>
<g id="n-author"><rect class="g" x="2535" y="1478" width="85" height="27" rx="6"/><text x="2577.5" y="1495.5">gcis:Author</text></g>
<g id="n-publisher"><rect class="g" x="2682" y="1478" width="98" height="27" rx="6"/><text x="2731" y="1495.5">gcis:Publisher</text></g>
<g id="n-sponsor"><rect class="g" x="2808" y="1478" width="92" height="27" rx="6"/><text x="2854" y="1495.5">gcis:Sponsor</text></g>
<g id="n-collaborator"><rect class="g" x="2944" y="1478" width="118" height="27" rx="6"/><text x="3003" y="1495.5">gcis:Collaborator</text></g>
<g id="n-editor"><rect class="g" x="3100" y="1478" width="81" height="27" rx="6"/><text x="3140.5" y="1495.5">gcis:Editor</text></g>
<g id="n-mediator"><rect class="g" x="3214" y="1478" width="95" height="27" rx="6"/><text x="3261.5" y="1495.5">gcis:Mediator</text></g>
<g id="n-rightsholder"><rect class="g" x="3343" y="1478" width="121" height="27" rx="6"/><text x="3403.5" y="1495.5">gcis:RightsHolder</text></g>
<g id="n-contributor"><rect class="g" x="3483" y="1478" width="112" height="27" rx="6"/><text x="3539" y="1495.5">gcis:Contributor</text></g>
<g id="n-funder"><rect class="g" x="3622" y="1478" width="88" height="27" rx="6"/><text x="3666" y="1495.5">gcis:Funder</text></g>
<g id="n-stakeholder"><rect class="g" x="3730" y="1478" width="118" height="27" rx="6"/><text x="3789" y="1495.5">gcis:Stakeholder</text></g>
</g>

<g id="labels">
<text x="638" y="181">rdfs:subclassOf</text>
<text x="787" y="139">gcis:hasCommittee</text>
<text class="rd" x="867" y="215">gcis:isChapterOf</text>
<text x="989" y="215">gcis:hasChapter</text>
<text x="1116" y="60">gcis:hasAuthor</text>
<text x="1462" y="57">gcis:hasTraceableAccount</text>
<text class="rd" x="1280" y="95">gcis:isTraceableAccountOf</text>
<text x="1121" y="137">gcis:hasFinding</text>
<text class="rd" x="1119" y="298">gcis:isFindingOf</text>
<text x="1281" y="196">gcis:isBasedOn</text>
<text x="1630" y="87">gcis:findingProcess</text>
<text x="1592" y="112">gcis:descriptionOfEvidenceBase</text>
<text x="1543" y="138">gcis:newInformationAndRemainingUncertainties</text>
<text x="1544" y="166">gcis:assessmentOfConfidenceBasedOnEvidence</text>
<text x="1455" y="204">gcis:confidence</text>
<text x="1612" y="245">owl:equivalentClass</text>
<text x="1672" y="295">owl:oneOf</text>
<text x="930" y="372">gcis:hasFigure</text>
<text x="1049" y="371">gcis:hasTable</text>
<text class="rd" x="790" y="389">gcis:isImageOf</text>
<text x="790" y="482">gcis:hasImage</text>
<text x="990" y="440">gcis:hasCaption</text>
<text class="rd" x="940" y="546">gcis:isFigureOf</text>
<text class="rd" x="1037" y="546">gcis:isTableOf</text>
<text class="rd" x="478" y="541">gcis:isMemberOf</text>
<text x="415" y="602">gcis:hasMember</text>
<text x="787" y="566">gcis:hasPublisher</text>
<text class="rd" x="787" y="602">gcis:isPublisherOf</text>
<text class="rd" x="783" y="630">gcis:isAuthorOf</text>
<text x="783" y="658">gcis:hasAuthor</text>
<text x="1064" y="703">gcis:cites</text>
<text x="765" y="706">gcis:relatedProject</text>
<text x="373" y="782">gcis:worksAt</text>
<text x="548" y="838">gcis:hasGoverningOrganization</text>
<text x="990" y="785">gcis:sourceDataset</text>
<text x="773.5" y="889">gcis:dataCenter</text>
<text x="1132" y="889">gcis:atLocation</text>
<text x="375" y="939">gcis:subOrganizationOf</text>
<text class="rd" x="375" y="953">gcis:hasSubOrganization</text>
<text x="764" y="956">gcis:sourceInstrument</text>
<text x="990" y="956">gcis:sourceAlgorithm</text>
<text x="1251" y="951">gcis:sourceModel</text>
<text x="1590" y="897">gcis:hasSpatialExtents</text>
<text x="1583" y="932">gcis:hasTemporalExtents</text>
<text x="1581" y="968">gcis:hasSpatialResolution</text>
<text x="1573" y="1008">gcis:hasTemporalResolution</text>
<text x="1128" y="1023">gcis:hasAuthor</text>
<text x="1196.5" y="1062">gcis:hasVersion</text>
<text x="1301.5" y="1061">gcis:hasName</text>
<text x="623" y="1001">gcis:inPlatform</text>
<text x="621" y="1050">gcis:hasInstrument</text>
<text x="709" y="1087">gcis:hasSensor</text>
<text x="822" y="1087">gcis:inInstrument</text>
<text x="990" y="1087">gcis:implements</text>
<text x="1077" y="1103">gcis:implementedIn</text>
<text x="662.5" y="1178">gcis:targetSensor</text>
<text x="844.5" y="1179">gcis:used</text>
<text x="773.5" y="1295">gcis:producedDataset</text>
<text x="935" y="1294">gcis:hasInputDataset</text>

<text x="395" y="1567">gcis:hasFundingAgency</text>
<text x="397.5" y="1809">gcis:subject</text>
<rect class="hb" x="819" y="1524" width="66" height="17"/><text x="851.5" y="1537">bibo:cites</text>
<text x="852.5" y="1639">rdfs:subclassOf</text>
<text x="997.5" y="1642">gcis:publicationStatus</text>
<rect class="hc" x="1003" y="1682" width="68" height="17"/><text x="1037" y="1695">dct:issued</text>
<text x="851" y="1726">rdfs:subclassOf</text>
<text x="690.5" y="1823">rdfs:subclassOf</text>
<text x="850.5" y="1822">rdfs:subclassOf</text>
<text x="984" y="1780">gcis:chapterNumber</text>
<rect class="hc" x="911" y="1799" width="81" height="17"/><text x="951.5" y="1812">dct:identifier</text>
<text x="1238.5" y="1777">gcis:URL</text>
<text x="1126" y="1818">rdfs:subclassOf</text>
<rect class="hc" x="1348" y="1607" width="83" height="17"/><text x="1389.5" y="1620">dct:identifier</text>
<text x="1507" y="1617">gcis:figureNumber</text>
<text x="1625" y="1615">gcis:hasCaption</text>
<rect class="hc" x="1343" y="1800" width="96" height="17"/><text x="1391" y="1813">dct:description</text>
<rect class="hc" x="1449" y="1802" width="82" height="17"/><text x="1490" y="1815">dct:identifier</text>
<rect class="hp" x="1545" y="1801" width="69" height="17"/><text x="1579.5" y="1814">prov:value</text>
<text x="1700" y="1814">gcis:findingNumber</text>
<rect class="hc" x="1859" y="1632" width="77" height="17"/><text x="1897.5" y="1645">dct:isPartOf</text>
<rect class="hc" x="1859" y="1708" width="77" height="17"/><text x="1897.5" y="1721">dct:isPartOf</text>
<text x="1898" y="1797">rdfs:subClassOf</text>
<text x="626.5" y="2037">rdfs:subclassOf</text>
<text x="732" y="2080">rdfs:subclassOf</text>
<text x="625.5" y="2128">rdfs:subclassOf</text>
<rect class="hf" x="694" y="2152" width="67" height="17"/><text x="727.5" y="2165">foaf:name</text>
<rect class="hp" x="695" y="2177" width="66" height="17"/><text x="728" y="2190">prov:label</text>
<text x="475.5" y="2219">rdfs:subclassOf</text>
<text x="633" y="2217">rdfs:subclassOf</text>
<text x="990.5" y="2219">rdfs:subclassOf</text>
<text x="1216.5" y="2219">rdfs:subclassOf</text>
<text x="1503.5" y="2140">rdfs:subclassOf</text>
<text x="1646.5" y="2141">rdfs:subclassOf</text>
<text x="1784.5" y="2142">rdfs:subclassOf</text>
<text x="1957" y="2139">rdfs:subclassOf</text>

<text x="2030" y="137">rdfs:subPropertyOf</text>
<text x="1933" y="195">gcis:hasImage</text>
<text x="2039" y="196">gcis:isBasedOn</text>
<text x="2416.5" y="118">rdfs:subPropertyOf</text>
<text x="2166.5" y="129">gcis:cites</text>
<text x="2164.5" y="170">rdfs:subPropertyOf</text>
<text x="2676" y="93">gcis:implements</text>
<text x="2670" y="115">gcis:hasInstrument</text>
<text x="2647" y="135">gcis:hasSpatialExtents</text>
<text x="2697" y="156">gcis:hasTemporalResolution</text>
<text x="2685" y="185">gcis:hasSpatialResolution</text>
<text x="2668" y="211">gcis:hasTemporalExtents</text>
<text x="2633" y="234">gcis:sourceDataset</text>
<text x="2617" y="260">gcis:sourceInstrument</text>
<text x="2627" y="285">gcis:sourceAlgorithm</text>
<text x="2599" y="310">gcis:sourceModel</text>
<text x="2565" y="340">gcis:hasSensor</text>
<text x="2434.5" y="340">gcis:hasFigure</text>
<text x="2373.5" y="315">gcis:hasTable</text>
<text x="2267" y="306">gcis:hasChapter</text>
<text class="rd" x="2174.5" y="326">gcis:hasFinding</text>
<text x="2154" y="268">gcis:hasTraceableAccount</text>
<text x="2071" y="362">rdfs:subPropertyOf</text>
<text x="2937" y="147">gcis:hasCommittee</text>
<text x="2995" y="178">gcis:hasPublisher</text>
<text x="3118" y="118">rdfs:subPropertyOf</text>
<text x="3044" y="211">gcis:hasAuthor</text>
<text x="3110.5" y="244">gcis:hasRunner</text>
<text x="3198" y="206">gcis:dataCenter</text>
<text x="3244.5" y="156">gcis:relatedProject</text>
<text x="3505.5" y="118">rdfs:subPropertyOf</text>
<text class="rd" x="3401.5" y="179">gcis:isMemberOf</text>
<text x="3500.5" y="207">gcis:worksAt</text>
<text x="3602.5" y="234">gcis:subOrganizationOf</text>
<text x="3602.5" y="274">rdfs:subPropertyOf</text>
<text x="4012" y="116">rdfs:subPropertyOf</text>
<text x="3857" y="158">gcis:wasCreatedBy</text>
<text x="3886.5" y="202">gcis:wasProducedBy</text>
<text x="3951" y="250">gcis:wasWrittenBy</text>
<text x="4105.5" y="247">gcis:wasCompiledBy</text>
<text x="4170" y="195">gcis:wasPreparedBy</text>
<text x="4181.5" y="146">gcis:wasCapturedBy</text>
<text x="4553.5" y="116">rdfs:subPropertyOf</text>
<text x="4472" y="204">gcis:hasInputDataset</text>
<text x="4615" y="208">gcis:used</text>
<text x="4939.5" y="116">rdfs:subPropertyOf</text>
<text x="4940" y="191">gcis:atLocation</text>
<text x="2406" y="494">rdfs:subPropertyOf</text>
<text x="2144" y="492">gcis:implementedIn</text>
<text class="rd" x="2147" y="522">gcis:isChapterOf</text>
<text class="rd" x="2149" y="548">gcis:isTraceableAccountOf</text>
<text x="2578" y="502">gcis:inInstrument</text>
<text x="2560" y="531">gcis:confidence</text>
<text x="2533" y="560">gcis:inPlatform</text>
<text class="rd" x="2203" y="577">gcis:isFindingOf</text>
<text class="rd" x="2260" y="598">gcis:isImageOf</text>
<text class="rd" x="2440" y="599">gcis:isTableOf</text>
<text class="rd" x="2345" y="631">gcis:isFigureOf</text>
<text x="2065" y="644">rdfs:subPropertyOf</text>
<text x="3104" y="494">rdfs:subPropertyOf</text>
<text class="rd" x="3030" y="568">gcis:isAuthorOf</text>
<text class="rd" x="3167" y="568">gcis:isPublisherOf</text>
<text x="3505.5" y="494">rdfs:subPropertyOf</text>
<text x="3438.5" y="559">gcis:hasMember</text>
<text class="rd" x="3597" y="559">gcis:hasSubOrganization</text>
<text x="3598.5" y="590">rdfs:subPropertyOf</text>
<text x="4003" y="496">rdfs:subPropertyOf</text>
<text x="4002" y="559">gcis:producedDataset</text>

<text x="3924.5" y="789">rdfs:subclassOf</text>
<text x="2120.5" y="891">gcis:wasProducedBy</text>
<text x="2285" y="891">gcis:wasWrittenBy</text>
<text x="2466" y="891">gcis:wasCompiledBy</text>
<text x="2648" y="891">gcis:wasCreatedBy</text>
<text x="2817" y="891">gcis:wasCompiledBy</text>
<text x="3003" y="891">gcis:wasPreparedBy</text>
<text x="3183.5" y="891">gcis:wasCapturedBy</text>
<text x="3328" y="891">gcis:used</text>
<text x="2899" y="1010">rdfs:subClassOf</text>
<rect class="hp" x="2968" y="1050" width="155" height="18"/><text x="3045.5" y="1063">prov:qualifiedAssociation</text>
<rect class="hp" x="3289" y="1051" width="73" height="18"/><text x="3325.5" y="1064">prov:agent</text>
<rect class="hp" x="3170" y="1092" width="85" height="18"/><text x="3212.5" y="1105">prov:hadRole</text>
<rect class="hc" x="3281" y="1210" width="55" height="18"/><text x="3308.5" y="1223">dct:title</text>
<text x="3214" y="1280">rdf:type</text>
</g>
</g>
</svg>
